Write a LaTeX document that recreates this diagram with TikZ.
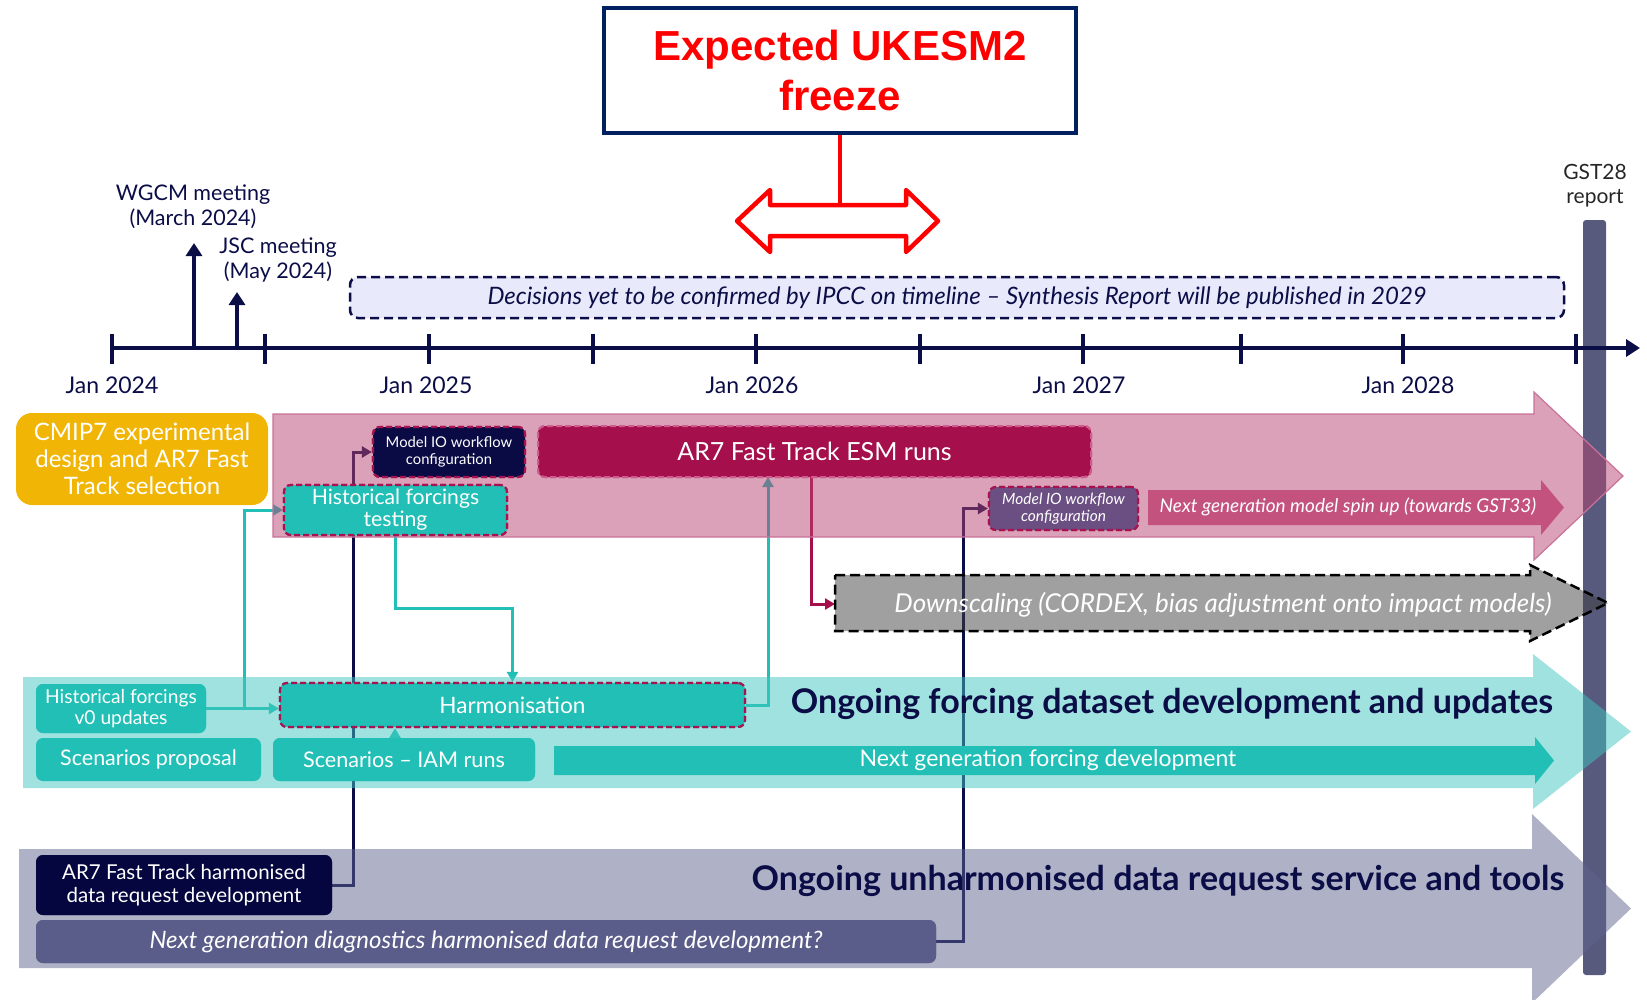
\documentclass[tikz,border=0pt]{standalone}
\usepackage{fontspec}
\setmainfont{Lato}
\newfontfamily\arialfont{Liberation Sans}
\usetikzlibrary{arrows.meta}
\definecolor{navy}{HTML}{0B0D47}
\definecolor{ukblue}{HTML}{002060}
\definecolor{ukred}{HTML}{FF0000}
\definecolor{declav}{HTML}{E8E9FB}
\definecolor{pinkb}{HTML}{B74371}
\definecolor{pinkedge}{HTML}{C9729A}
\definecolor{crim}{HTML}{A50F4B}
\definecolor{crimdash}{HTML}{A8124F}
\definecolor{crimlight}{HTML}{CF5A8E}
\definecolor{mionavy}{HTML}{0A0A45}
\definecolor{miopurple}{HTML}{6C4F82}
\definecolor{spinpink}{HTML}{C4527F}
\definecolor{tealbox}{HTML}{22BFB6}
\definecolor{tealb}{HTML}{41C5BF}
\definecolor{grayb}{HTML}{414141}
\definecolor{lavb}{HTML}{5F638D}
\definecolor{hdrnavy}{HTML}{05063F}
\definecolor{slate}{HTML}{5A5C89}
\definecolor{gstbar}{HTML}{575A7D}
\definecolor{cmipyel}{HTML}{F0B505}
\newcommand\myfz[2]{\fontsize{#1}{#2}\selectfont}
\begin{document}
\begin{tikzpicture}[x=1pt,y=-1pt,
  navyl/.style={draw=navy, line width=3pt},
  teall/.style={draw=tealbox, line width=3pt},
  criml/.style={draw=crim, line width=3pt},
  arr/.style={-{Triangle[length=10pt,width=11pt]}},
  txt/.style={inner sep=0pt, align=center},
  box/.style={rounded corners=7pt, inner sep=0pt, align=center, text=white},
  dbox/.style={box, draw=crimdash, line width=2.2pt, dash pattern=on 6pt off 3pt},
  band/.style={fill opacity=0.5},
  datelbl/.style={txt, text=navy, font=\myfz{23}{27}},
  meetlbl/.style={txt, text=navy, font=\myfz{21.5}{25}},
  tickln/.style={draw=navy, line width=4pt}]
\useasboundingbox (0,0) rectangle (1647,999);

% GST28 bar
\fill[gstbar, rounded corners=3pt] (1583,220) rectangle (1606,975);

% ---------- nodes used by the connectors ----------
\node[box, fill=hdrnavy, minimum width=296pt, minimum height=60pt] (ar7hdr) at (184,885) {};
\node[box, fill=slate, minimum width=900pt, minimum height=43pt] (ngd) at (486,941.5) {};
\node[dbox, fill=mionavy, minimum width=152pt, minimum height=50pt] (mio1) at (449,452) {};
\node[dbox, fill=miopurple, minimum width=149pt, minimum height=43pt] (mio2) at (1063.5,508.5) {};
\node[dbox, fill=tealbox, minimum width=223pt, minimum height=50pt] (testing) at (395.5,510) {};
\node[box, draw=crimlight, line width=2pt, dash pattern=on 6pt off 3pt, fill=crim, minimum width=553pt, minimum height=51pt] (ar7runs) at (814.5,451.5) {};
\node[dbox, fill=tealbox, minimum width=465pt, minimum height=44pt] (harm) at (512.5,705) {};
\node[box, fill=tealbox, minimum width=170pt, minimum height=49pt] (v0) at (121,708.5) {};
\node[box, fill=tealbox, minimum width=262pt, minimum height=43pt] (iam) at (404,759.5) {};

\coordinate (n1) at (353,452);
\coordinate (n2) at (963,508.5);
\coordinate (t1) at (244,708.5);
\coordinate (t3) at (768,477);
\coordinate (t4) at (395,738);
\coordinate (c1) at (811,477);
\coordinate (dsl) at (835,604);

% ---------- connectors (under the translucent bands) ----------
\draw[navyl, arr] (ar7hdr.east) -| (n1) -- (mio1.west);
\draw[navyl, arr] (ngd.east) -| (n2) -- (mio2.west);
\draw[teall, arr] (v0.east) -- (harm.west |- v0.east);
\draw[teall, arr] (t1) |- (testing.west);
\draw[teall, arr] (testing.south) -- ++(0,72) -| (harm.north);
\draw[teall, arr] (harm.east) -| (t3);
\draw[teall, arr] (t4) -- (t4 |- harm.south);
\draw[criml, arr] (c1) |- (dsl);

% ---------- big translucent bands ----------
\fill[pinkb, band] (273,414) -- (1534,414) -- (1534,392) -- (1623,476) -- (1534,560) -- (1534,537) -- (273,537) -- cycle;
\draw[pinkedge, line width=1.2pt] (273,414) -- (1534,414) -- (1534,392) -- (1623,476) -- (1534,560) -- (1534,537) -- (273,537) -- cycle;
\fill[tealb, band] (23,677) -- (1533,677) -- (1533,654) -- (1631,731.5) -- (1533,809) -- (1533,788) -- (23,788) -- cycle;
\fill[lavb, band] (19,849) -- (1532,849) -- (1532,814) -- (1631,908.5) -- (1532,1003) -- (1532,968) -- (19,968) -- cycle;
\fill[grayb, band] (835,575) -- (1530,575) -- (1530,565) -- (1608,603) -- (1530,641) -- (1530,631) -- (835,631) -- cycle;
\draw[black, line width=2.5pt, dash pattern=on 10pt off 5pt] (835,575) -- (1530,575) -- (1530,565) -- (1608,603) -- (1530,641) -- (1530,631) -- (835,631) -- cycle;

% inner arrows
\fill[spinpink] (1148,490) -- (1541,490) -- (1541,480) -- (1564,507.5) -- (1541,535) -- (1541,525) -- (1148,525) -- cycle;
\fill[tealbox] (554,746) -- (1535,746) -- (1535,737) -- (1554,760.5) -- (1535,784) -- (1535,775) -- (554,775) -- cycle;

% ---------- boxes on top ----------
\node[box, fill=hdrnavy, minimum width=296pt, minimum height=60pt, font=\myfz{20.5}{23}] at (ar7hdr) {AR7 Fast Track harmonised\\data request development};
\node[box, fill=slate, minimum width=900pt, minimum height=43pt, font=\myfz{24}{28}\itshape] at (ngd) {Next generation diagnostics harmonised data request development?};
\node[dbox, fill=mionavy, minimum width=152pt, minimum height=50pt, font=\myfz{14.8}{17}] at (mio1) {Model IO workflow\\configuration};
\node[dbox, fill=miopurple, minimum width=149pt, minimum height=43pt, font=\myfz{15.5}{17}\itshape] at (mio2) {Model IO workflow\\configuration};
\node[dbox, fill=tealbox, minimum width=223pt, minimum height=50pt, font=\myfz{21.2}{22}] at (testing) {Historical forcings\\testing};
\node[box, draw=crimlight, line width=2pt, dash pattern=on 6pt off 3pt, fill=crim, minimum width=553pt, minimum height=51pt, font=\myfz{25}{28}] at (ar7runs) {AR7 Fast Track ESM runs};
\node[dbox, fill=tealbox, minimum width=465pt, minimum height=44pt, font=\myfz{22.6}{26}] at (harm) {Harmonisation};
\node[box, fill=tealbox, minimum width=170pt, minimum height=49pt, font=\myfz{19.2}{20.5}] at (v0) {Historical forcings\\v0 updates};
\node[box, fill=tealbox, minimum width=225pt, minimum height=43pt, font=\myfz{21.5}{24}] (scprop) at (148.5,759.5) {Scenarios proposal};
\node[box, fill=tealbox, minimum width=262pt, minimum height=43pt, font=\myfz{21.6}{24}] at (iam) {Scenarios – IAM runs};
\node[box, fill=cmipyel, rounded corners=16pt, minimum width=252pt, minimum height=92pt, font=\myfz{24}{27}] (cmip) at (142,459) {CMIP7 experimental\\design and AR7 Fast\\Track selection};

% band labels
\node[txt, text=white, font=\myfz{19}{22}\itshape] (spinlbl) at (1348,507) {Next generation model spin up (towards GST33)};
\node[txt, text=white, font=\myfz{23}{26}] (nglbl) at (1048,760) {Next generation forcing development};
\node[txt, text=white, font=\myfz{26}{30}\itshape] (dslbl) at (1223,605) {Downscaling (CORDEX, bias adjustment onto impact models)};
\node[txt, text=navy, font=\myfz{34}{38}\bfseries] (forclbl) at (1172,704) {Ongoing forcing dataset development and updates};
\node[txt, text=navy, font=\myfz{34}{38}\bfseries] (unhlbl) at (1158,881) {Ongoing unharmonised data request service and tools};

% ---------- timeline ----------
\node[draw=navy, fill=declav, line width=2.5pt, dash pattern=on 9pt off 5pt, rounded corners=8pt, minimum width=1214pt, minimum height=41pt, inner sep=0pt, text=navy, font=\myfz{24}{28}\itshape] (decision) at (957,297.5) {Decisions yet to be confirmed by IPCC on timeline – Synthesis Report will be published in 2029};

\coordinate (ax0) at (112,348);
\coordinate (ax1) at (1640,348);
\draw[navy, line width=4.5pt, -{Triangle[length=14pt,width=17pt]}] (ax0) -- (ax1);
\foreach \tx in {112,265,429,593,756,920,1083,1241,1403,1576}
  \draw[tickln] (\tx,334) -- (\tx,364);
\coordinate (wg0) at (194,348);
\coordinate (wg1) at (194,243);
\coordinate (js0) at (237,348);
\coordinate (js1) at (237,292);
\draw[navy, line width=4pt, -{Triangle[length=13pt,width=16pt]}] (wg0) -- (wg1);
\draw[navy, line width=4pt, -{Triangle[length=13pt,width=16pt]}] (js0) -- (js1);

\node[datelbl] (d24) at (112,385) {Jan 2024};
\node[datelbl] (d25) at (426,385) {Jan 2025};
\node[datelbl] (d26) at (752,385) {Jan 2026};
\node[datelbl] (d27) at (1079,385) {Jan 2027};
\node[datelbl] (d28) at (1408,385) {Jan 2028};
\node[meetlbl] (wgcm) at (193,207) {WGCM meeting\\(March 2024)};
\node[meetlbl] (jsc) at (278,259.5) {JSC meeting\\(May 2024)};
\node[txt, text=black!85, font=\myfz{21}{24}] (gst) at (1595,186) {GST28\\report};

% ---------- UKESM2 freeze ----------
\node[draw=ukblue, fill=white, line width=4.5pt, minimum width=472pt, minimum height=125pt, inner sep=0pt, align=center, text=ukred, font=\arialfont\bfseries\myfz{42}{50}] (freeze) at (840,70.5) {Expected UKESM2\\freeze};
\coordinate (fz1) at (840,205);
\draw[ukred, line width=4.5pt] (freeze.south) -- (fz1);
\draw[ukred, fill=white, line width=4.5pt, line join=round] (737,221) -- (770,190) -- (770,205) -- (906,205) -- (906,190) -- (938,221) -- (906,252) -- (906,236) -- (770,236) -- (770,252) -- cycle;
\end{tikzpicture}
\end{document}
